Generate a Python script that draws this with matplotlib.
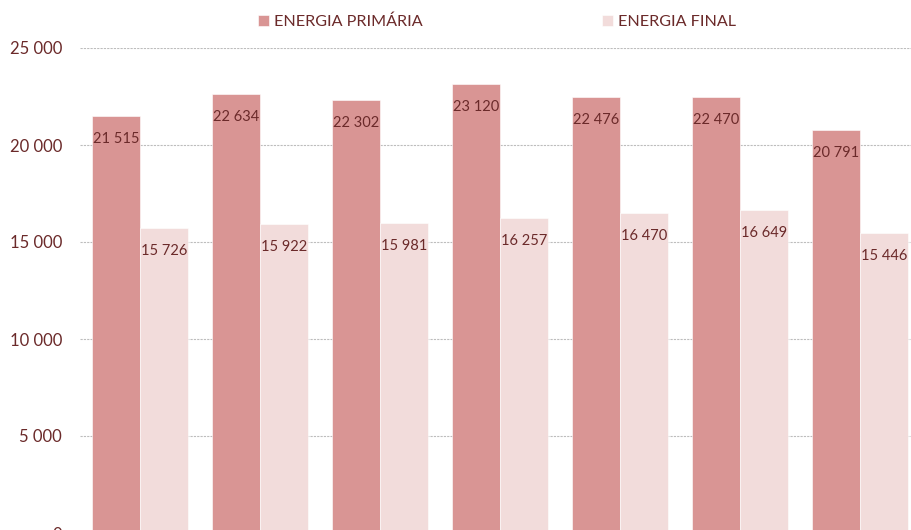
import numpy as np
import matplotlib
matplotlib.use("Agg")
import matplotlib.pyplot as plt

anos = ["2013", "2014", "2015", "2016", "2017", "2018", "2019"]
primaria = [21515, 22634, 22302, 23120, 22476, 22470, 20791]
final = [15726, 15922, 15981, 16257, 16470, 16649, 15446]
series_nomes = ["ENERGIA PRIMÁRIA", "ENERGIA FINAL"]
yticks = [0, 5000, 10000, 15000, 20000, 25000]

cor_prim = "#D99594"
cor_fin = "#F2DCDB"
cor_txt = "#6B2A2A"

plt.rcParams["font.family"] = ["Lato", "DejaVu Sans"]

fig = plt.figure(figsize=(9.11, 5.30), dpi=100)
ax = fig.add_axes([80/911, -3/530, 840/911, 485/530])

x = np.arange(len(anos))
w = 0.4
b1 = ax.bar(x - w/2, primaria, w, color=cor_prim, edgecolor="white", linewidth=0.4,
            label=series_nomes[0], zorder=2)
b2 = ax.bar(x + w/2, final, w, color=cor_fin, edgecolor="white", linewidth=0.4,
            label=series_nomes[1], zorder=2)

def fmt(v):
    return f"{v:,}".replace(",", " ")

for bars, vals in ((b1, primaria), (b2, final)):
    for r, v in zip(bars, vals):
        ax.annotate(fmt(v), (r.get_x() + r.get_width()/2, v), xytext=(0, -16.5),
                    textcoords="offset points", ha="center", va="center",
                    fontsize=10.5, color=cor_txt, zorder=3)

ax.set_xlim(-0.5, len(anos) - 0.5)
ax.set_ylim(0, 25000)
ax.set_yticks(yticks)
ax.set_yticklabels([fmt(t) for t in yticks], fontsize=12, color=cor_txt)
ax.set_xticks([])
ax.tick_params(axis="y", length=0, pad=13)
ax.yaxis.grid(True, linestyle=(0, (2, 1)), color="#BDBDBD", linewidth=0.8, zorder=0)
for s in ax.spines.values():
    s.set_visible(False)

leg = fig.legend(handles=[b1, b2], loc="center", bbox_to_anchor=(497/911, 1 - 22/530),
                 ncol=2, frameon=False, fontsize=11.6, handlelength=0.7, handleheight=0.7,
                 handletextpad=0.3, columnspacing=11.1)
for t in leg.get_texts():
    t.set_color(cor_txt)

fig.savefig("out.png", dpi=100)
